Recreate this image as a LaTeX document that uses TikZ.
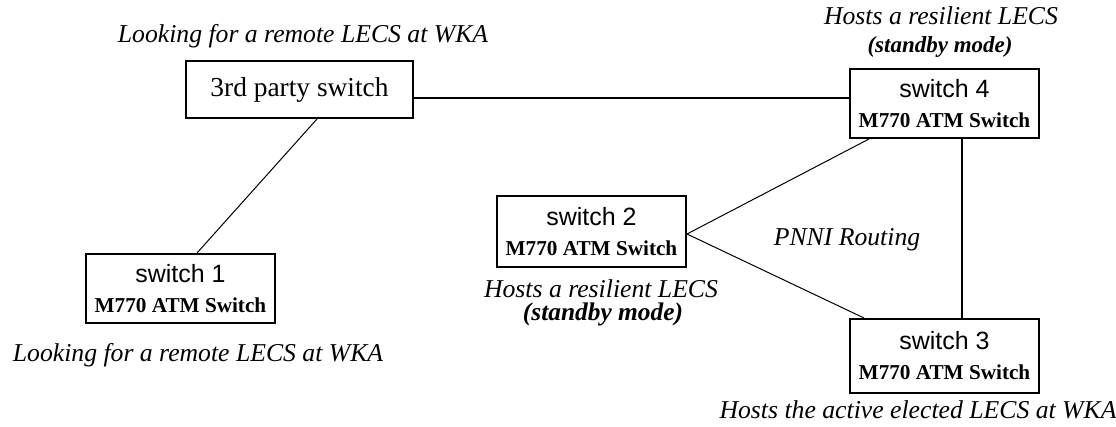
\documentclass[tikz,border=0pt]{standalone}
\usepackage{fontspec}
\setmainfont{Liberation Serif}
\setsansfont{Liberation Sans}
\newcommand\swname[1]{{\sffamily\fontsize{25}{30}\selectfont #1}}
\newcommand\swtype{{\bfseries M770 ATM Switch}}
\tikzset{
  swbox/.style={draw, line width=2pt, inner sep=0pt, align=center,
    minimum width=189pt, minimum height=#1, font=\fontsize{21.2}{30}\selectfont},
  swbox/.default=69pt,
  captxt/.style={anchor=base, inner sep=0pt, font=\itshape\fontsize{25.7}{30}\selectfont},
  captbold/.style={anchor=base, inner sep=0pt, font=\bfseries\itshape\fontsize{#1}{30}\selectfont},
  lnk/.style={line width=1pt},
  lnkbold/.style={line width=2pt}
}
\begin{document}
\begin{tikzpicture}[x=1pt,y=-1pt]
\useasboundingbox (0,0) rectangle (1116,427);
% switches
\node[draw, line width=2pt, inner sep=0pt, minimum width=227pt, minimum height=57pt,
      font=\fontsize{27.4}{30}\selectfont] (tp) at (299.5,89.5) {3rd party switch};
\node[swbox] (s4) at (944.5,103.5) {\swname{switch 4}\\\swtype};
\node[swbox=71pt] (s2) at (591.5,231.5) {\swname{switch 2}\\\swtype};
\node[swbox] (s1) at (180.5,288.5) {\swname{switch 1}\\\swtype};
\node[swbox=74pt] (s3) at (944.5,356) {\swname{switch 3}\\\swtype};
% captions
\node[captxt] (ctp) at (303,43) {Looking for a remote LECS at WKA};
\node[captxt] (c4a) at (941,25) {Hosts a resilient LECS};
\node[captbold=23] (c4b) at (940,53) {(standby mode)};
\node[captxt] (c2a) at (601,298) {Hosts a resilient LECS};
\node[captbold=25.4] (c2b) at (603,321) {(standby mode)};
\node[captxt] (c1) at (198,362) {Looking for a remote LECS at WKA};
\node[captxt] (pnni) at (847,246) {PNNI Routing};
\node[captxt] (c3) at (918,418) {Hosts the active elected LECS at WKA};
% connectors
\draw[lnkbold] ([yshift=-8.5pt]tp.east) -- ([yshift=-8.5pt]tp.east -| s4.west);
\draw[lnk] ([xshift=17.5pt]tp.south) -- ([xshift=16.5pt]s1.north);
\draw[lnk] ([yshift=-2.5pt]s2.east) -- ([xshift=20pt]s4.south west);
\draw[lnk] ([yshift=-2.5pt]s2.east) -- ([xshift=15pt]s3.north west);
\draw[lnkbold] ([xshift=17.5pt]s4.south) -- ([xshift=17.5pt]s3.north);
\end{tikzpicture}
\end{document}
